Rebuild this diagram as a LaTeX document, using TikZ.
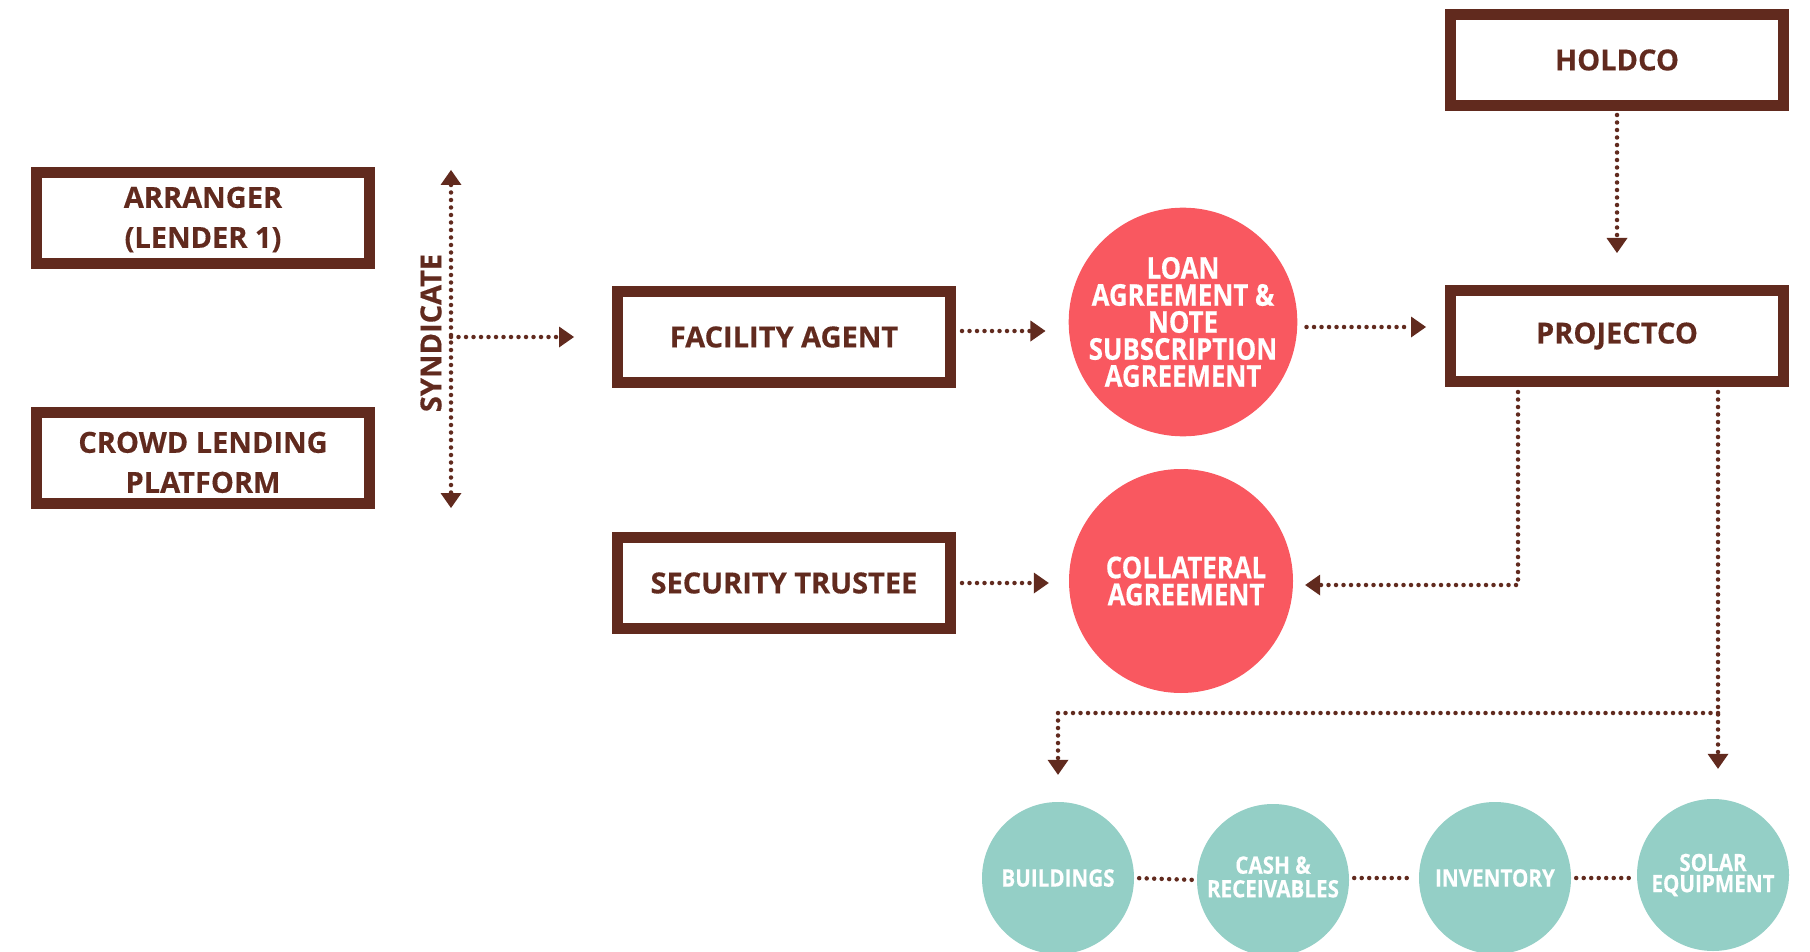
\documentclass[tikz,border=0pt]{standalone}
\usepackage{fontspec}
\setmainfont{Open Sans}[BoldFeatures={FakeBold=0.4}]
\newfontfamily\condfont{Open Sans}[FakeStretch=0.86,BoldFeatures={FakeBold=0.4}]
\usetikzlibrary{arrows.meta}
\definecolor{brn}{HTML}{612A1E}
\definecolor{coral}{HTML}{F95860}
\definecolor{tealc}{HTML}{94CFC6}
\newcommand{\twolines}[3]{\raisebox{#1}[0pt][0pt]{\begin{tabular}{@{}c@{}}#2\\#3\end{tabular}}}
\begin{document}
\begin{tikzpicture}[x=1pt,y=-1pt,
  box/.style={draw=brn, line width=11pt, minimum width=333pt, minimum height=91pt, inner sep=0pt, text=brn, font=\fontsize{29}{40}\selectfont\bfseries, align=center},
  bigc/.style={circle, fill=coral, minimum size=224pt, inner sep=0pt, text=white, align=center, font=\condfont\fontsize{30}{27}\selectfont\bfseries},
  smallc/.style={circle, fill=tealc, minimum size=152pt, inner sep=0pt, text=white, align=center, font=\condfont\fontsize{24}{21}\selectfont\bfseries},
  dots/.style={draw=brn, line width=4.5pt, line cap=round, dash pattern=on 0pt off 7.5pt},
  tip/.tip={Triangle[length=15pt,width=21pt,line width=0pt]},
  arr/.style={dots, -tip}
]
\useasboundingbox[fill=white] (0,0) rectangle (1810,952);
% boxes
\node[box] (arr) at (203,218) {\twolines{-8pt}{ARRANGER}{(LENDER 1)}};
\node[box] (crowd) at (203,458) {\twolines{-13pt}{CROWD LENDING}{PLATFORM}};
\node[box] (fa) at (784,337) {FACILITY AGENT};
\node[box] (st) at (784,583) {SECURITY TRUSTEE};
\node[box] (hold) at (1617,60) {HOLDCO};
\node[box] (proj) at (1617,336) {PROJECTCO};
% circles
\node[bigc] (loan) at (1183,322) {LOAN\\AGREEMENT \&\\NOTE\\SUBSCRIPTION\\AGREEMENT};
\node[bigc] (coll) at (1181,581) {\hspace*{10pt}COLLATERAL\\\hspace*{10pt}AGREEMENT};
\node[smallc] (bld) at (1058,878) {BUILDINGS};
\node[smallc] (cash) at (1273,880) {\raisebox{3pt}{\begin{tabular}{@{}c@{}}CASH \&\\RECEIVABLES\end{tabular}}};
\node[smallc] (inv) at (1495,878) {INVENTORY};
\node[smallc] (sol) at (1713,875) {SOLAR\\EQUIPMENT};
% syndicate
\coordinate (sTop) at (451,170);
\coordinate (sBot) at (451,508);
\coordinate (sMid) at (451,337);
\draw[dots, tip-tip] (sTop) -- (sBot);
\draw[arr, shorten >=38pt] (sMid) -- (sMid -| fa.west);
\node[rotate=90, text=brn, font=\fontsize{29}{29}\selectfont\bfseries, inner sep=0pt] (synd) at (431,333) {SYNDICATE};
% facility -> loan
\coordinate (fa1) at ([yshift=6pt]fa.east);
\draw[arr, shorten <=6pt, shorten >=23pt] (fa1) -- (fa1 -| loan.west);
% loan -> projectco
\coordinate (ln1) at ([yshift=-5pt]loan.east);
\draw[arr, shorten <=9pt, shorten >=19pt] (ln1) -- (ln1 -| proj.west);
% holdco -> projectco
\draw[arr, shorten <=4pt, shorten >=32pt] (hold.south) -- (proj.north);
% security -> collateral
\draw[arr, shorten <=6pt, shorten >=20pt] (st.east) -- (st.east -| coll.west);
% projectco -> collateral
\coordinate (p1) at ([xshift=-99pt]proj.south);
\draw[arr, shorten <=5pt, shorten >=12pt] (p1) |- ([yshift=-4pt]coll.east);
% projectco -> assets
\coordinate (p2) at ([xshift=101pt]proj.south);
\coordinate (br) at (p2 |- 0,713);
\draw[arr, shorten <=5pt, shorten >=30pt] (p2) -- (p2 |- sol.north);
\draw[arr, shorten >=27pt] (br) -| (bld.north);
% asset links
\draw[dots, shorten <=5pt, shorten >=5pt] (bld.east) -- (cash.west);
\draw[dots, shorten <=5pt, shorten >=5pt] ([yshift=2pt]cash.east) -- ([yshift=2pt]cash.east -| inv.west);
\draw[dots, shorten <=5pt, shorten >=5pt] (inv.east) -- (inv.east -| sol.west);
\end{tikzpicture}
\end{document}
